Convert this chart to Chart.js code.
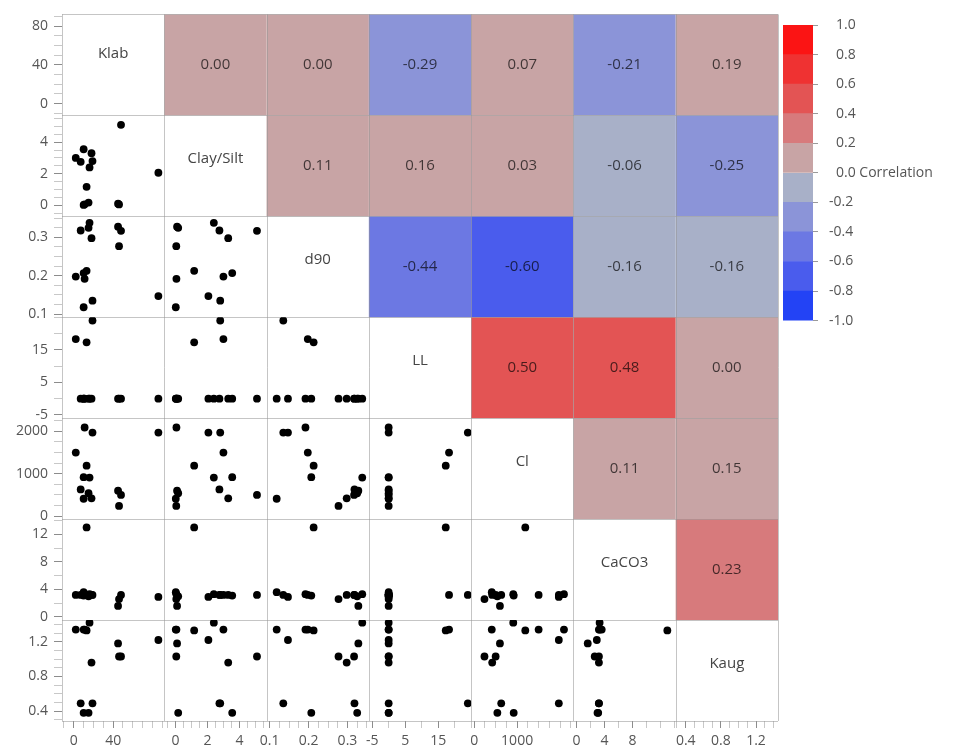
<!DOCTYPE html>
<html lang="en">
<head>
  <meta charset="UTF-8" />
  <title>Scatterplot Matrix</title>
  <script src="https://cdn.jsdelivr.net/npm/chart.js"></script>
  <style>
    html, body { margin: 0; padding: 0; background: #fff; }
    #wrap { position: relative; width: 954px; height: 755px; }
    #matrix { position: absolute; left: 0; top: 0; }
    #scale { position: absolute; left: 770px; top: 0; }
  </style>
</head>
<body>
  <div id="wrap">
    <canvas id="matrix" width="954" height="755"></canvas>
    <canvas id="scale" width="184" height="340"></canvas>
  </div>

  <script>
    // variables, one value per sample
    const names = ['Klab', 'Clay/Silt', 'd90', 'LL', 'Cl', 'CaCO3', 'Kaug'];
    const klab     = [86, 48, 13, 19, 2, 10, 18, 7, 16, 46, 45, 15, 10, 11];
    const claySilt = [2.06, 5.1, 1.17, 2.8, 3.0, 3.55, 3.3, 2.75, 2.4, 0.05, 0.1, 0.17, 0.02, 0.06];
    const d90      = [0.147, 0.317, 0.213, 0.135, 0.198, 0.207, 0.298, 0.318, 0.338, 0.277, 0.328, 0.325, 0.118, 0.192];
    const ll       = [0, 0, 17.3, 24, 18.3, 0, 0, 0, 0, 0, 0, 0, 0, 0];
    const cl       = [1970, 500, 1190, 1970, 1500, 920, 420, 630, 910, 240, 600, 540, 410, 2090];
    const caco3    = [2.9, 3.2, 13.0, 3.2, 3.2, 3.1, 3.2, 3.2, 3.3, 2.6, 1.6, 3.0, 3.6, 3.3];
    const kaug     = [1.22, 1.03, 1.33, 0.49, 1.34, 0.38, 0.96, 0.49, 1.42, 1.03, 1.18, 0.38, 1.34, 1.34];
    const columns = [klab, claySilt, d90, ll, cl, caco3, kaug];

    // correlations above the diagonal, row by row
    const corrUpper = [
      [0.00, 0.00, -0.29, 0.07, -0.21, 0.19],
      [0.11, 0.16, 0.03, -0.06, -0.25],
      [-0.44, -0.60, -0.16, -0.16],
      [0.50, 0.48, 0.00],
      [0.11, 0.15],
      [0.23]
    ];

    // axis ranges and labelled ticks
    const axisMin = [-12, -0.7, 0.092, -6, -70, -0.45, 0.286];
    const axisMax = [92, 5.7, 0.355, 25, 2310, 14.2, 1.45];
    const yTickLabels = [[0, 40, 80], [0, 2, 4], [0.1, 0.2, 0.3], [-5, 5, 15], [0, 1000, 2000], [0, 4, 8, 12], [0.4, 0.8, 1.2]];
    const xTickLabels = [[0, 40], [0, 2, 4], [0.1, 0.2, 0.3], [-5, 5, 15], [0, 1000], [0, 4, 8], [0.4, 0.8, 1.2]];
    const minorStep = [10, 0.5, 0.025, 5, 250, 2, 0.1];

    // colour key, bottom to top
    const legendBins = [-1, -0.8, -0.6, -0.4, -0.2, 0, 0.2, 0.4, 0.6, 0.8, 1];
    const binColors = ['#2343f5', '#4a5ced', '#6c78e3', '#8b94d8', '#a8b0c8', '#c8a4a5', '#d77a7c', '#e35454', '#ef3232', '#fb1414'];

    const FONT = "'Segoe UI', 'Open Sans', sans-serif";
    Chart.defaults.font.family = FONT;

    function binIndex(r) {
      if (r >= 0) return 5 + Math.min(4, Math.floor(r / 0.2 + 1e-9));
      return 4 - Math.min(4, Math.floor(-r / 0.2 + 1e-9));
    }

    function tickValues(i) {
      const s = minorStep[i];
      const out = [];
      for (let k = Math.ceil(axisMin[i] / s - 1e-9); k * s <= axisMax[i] + 1e-9; k++) {
        out.push(+(k * s).toFixed(6));
      }
      return out;
    }

    const isMajor = (list, v) => list.some(m => Math.abs(m - v) < 1e-9);
    const fmt = v => String(+v.toFixed(3));

    const scales = {};
    names.forEach((name, i) => {
      scales['x' + i] = {
        type: 'linear', position: 'bottom', stack: 'cols', stackWeight: 1, weight: i + 1,
        min: axisMin[i], max: axisMax[i],
        afterBuildTicks: s => { s.ticks = tickValues(i).map(v => ({ value: v })); },
        afterFit: s => { s.height = 34; },
        grid: {
          drawOnChartArea: false, tickLength: 7,
          tickColor: c => isMajor(xTickLabels[i], c.tick.value) ? '#8c8c8c' : '#c8c8c8'
        },
        border: { display: false },
        ticks: {
          autoSkip: false, maxRotation: 0, padding: 5, color: '#555',
          font: { size: 14 },
          callback: v => isMajor(xTickLabels[i], v) ? fmt(v) : ''
        }
      };
      scales['y' + i] = {
        type: 'linear', position: 'left', stack: 'rows', stackWeight: 1, weight: 7 - i,
        min: axisMin[i], max: axisMax[i],
        afterBuildTicks: s => { s.ticks = tickValues(i).map(v => ({ value: v })); },
        afterFit: s => { s.width = 62; },
        grid: {
          drawOnChartArea: false, tickLength: 8,
          tickColor: c => isMajor(yTickLabels[i], c.tick.value) ? '#8c8c8c' : '#c8c8c8'
        },
        border: { display: false },
        ticks: {
          autoSkip: false, padding: 6, color: '#555',
          font: { size: 14 },
          callback: v => isMajor(yTickLabels[i], v) ? fmt(v) : ''
        }
      };
    });

    const datasets = [];
    for (let r = 1; r < names.length; r++) {
      for (let c = 0; c < r; c++) {
        datasets.push({
          xAxisID: 'x' + c,
          yAxisID: 'y' + r,
          data: columns[c].map((v, k) => ({ x: v, y: columns[r][k] })),
          pointRadius: 3.9,
          pointBackgroundColor: '#000',
          pointBorderWidth: 0
        });
      }
    }

    const matrixCells = {
      id: 'matrixCells',
      beforeDatasetsDraw(chart) {
        const { ctx, chartArea } = chart;
        const n = names.length;
        ctx.save();
        for (let r = 0; r < n; r++) {
          for (let c = r + 1; c < n; c++) {
            const xs = chart.scales['x' + c], ys = chart.scales['y' + r];
            ctx.fillStyle = binColors[binIndex(corrUpper[r][c - r - 1])];
            ctx.fillRect(xs.left, ys.top, xs.right - xs.left, ys.bottom - ys.top);
          }
        }
        ctx.strokeStyle = 'rgba(150,150,150,0.55)';
        ctx.lineWidth = 1;
        ctx.beginPath();
        for (let i = 0; i <= n; i++) {
          const xs = chart.scales['x' + Math.min(i, n - 1)];
          const x = Math.round(i < n ? xs.left : xs.right) + 0.5;
          ctx.moveTo(x, chartArea.top);
          ctx.lineTo(x, chartArea.bottom);
          const ys = chart.scales['y' + Math.min(i, n - 1)];
          const y = Math.round(i < n ? ys.top : ys.bottom) + 0.5;
          ctx.moveTo(chartArea.left, y);
          ctx.lineTo(chartArea.right, y);
        }
        ctx.stroke();
        ctx.restore();
      },
      afterDatasetsDraw(chart) {
        const { ctx } = chart;
        const n = names.length;
        ctx.save();
        ctx.textAlign = 'center';
        ctx.textBaseline = 'middle';
        ctx.font = '15px ' + FONT;
        for (let r = 0; r < n; r++) {
          for (let c = r; c < n; c++) {
            const xs = chart.scales['x' + c], ys = chart.scales['y' + r];
            const cx = (xs.left + xs.right) / 2, cy = (ys.top + ys.bottom) / 2;
            if (c === r) {
              ctx.fillStyle = '#444';
              ctx.fillText(names[r], cx, cy - (r === 0 ? 11 : 7));
            } else {
              ctx.fillStyle = 'rgba(0,0,0,0.68)';
              ctx.fillText(corrUpper[r][c - r - 1].toFixed(2), cx, cy);
            }
          }
        }
        ctx.restore();
      }
    };

    new Chart(document.getElementById('matrix'), {
      type: 'scatter',
      data: { datasets },
      options: {
        responsive: false,
        animation: false,
        events: [],
        layout: { padding: { left: 0, top: 7, right: 176, bottom: 0 }, autoPadding: false },
        plugins: { legend: { display: false }, tooltip: { enabled: false } },
        scales
      },
      plugins: [matrixCells]
    });

    // colour key
    new Chart(document.getElementById('scale'), {
      type: 'bar',
      data: {
        labels: ['Correlation'],
        datasets: binColors.map((col, i) => ({
          data: [[legendBins[i], legendBins[i + 1]]],
          backgroundColor: col,
          barPercentage: 1,
          categoryPercentage: 1,
          grouped: false,
          borderWidth: 0
        }))
      },
      options: {
        responsive: false,
        animation: false,
        events: [],
        layout: { padding: { left: 13, top: 25, bottom: 15, right: 0 }, autoPadding: false },
        plugins: { legend: { display: false }, tooltip: { enabled: false } },
        scales: {
          x: { display: false },
          y: {
            position: 'right', min: -1, max: 1,
            afterBuildTicks: s => { s.ticks = legendBins.map(v => ({ value: v })); },
            afterFit: s => { s.width = 141; },
            grid: { drawOnChartArea: false, tickLength: 5, tickColor: '#9a9a9a' },
            border: { display: false },
            ticks: {
              padding: 11, color: '#555', font: { size: 14 },
              callback: v => {
                const t = Math.abs(v) < 1e-9 ? '0.0' : v.toFixed(1);
                if (Math.abs(v) < 1e-9) return '\u2002' + t + ' Correlation';
                return v > 0 ? '\u2002' + t : t;
              }
            }
          }
        }
      }
    });
  </script>
</body>
</html>
